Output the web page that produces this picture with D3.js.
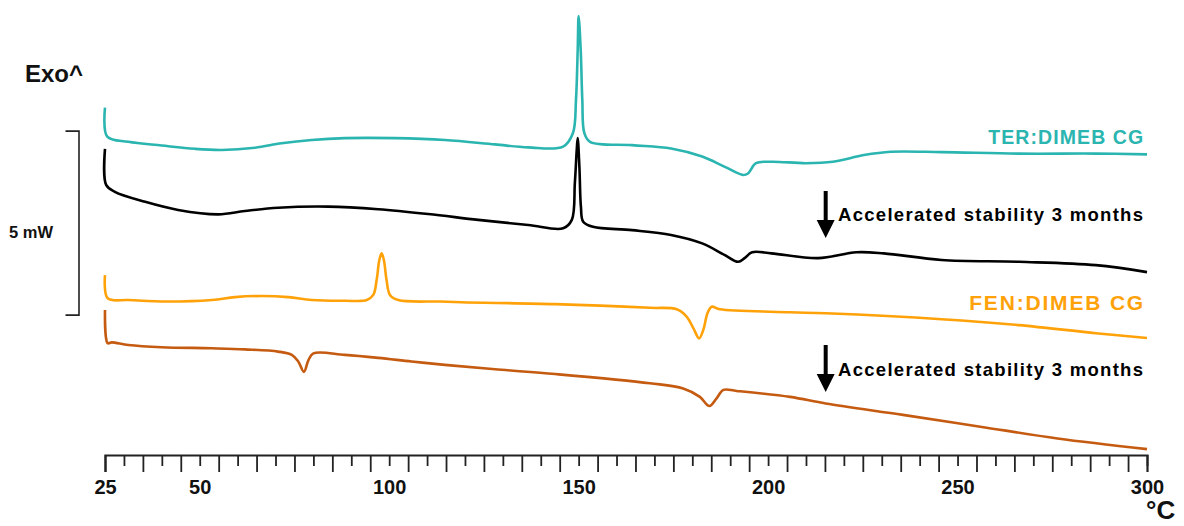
<!DOCTYPE html>
<html>
<head>
<meta charset="utf-8">
<script src="https://cdn.jsdelivr.net/npm/d3@7"></script>
<style>
  body { margin: 0; background: #fff; }
  text { font-family: "Liberation Sans", Arial, sans-serif; font-weight: bold; }
</style>
</head>
<body>
<svg id="chart" width="1184" height="526"></svg>
<script>
// DSC thermograms, [temperature °C, heat flow mW] (offset curves)
var terDimeb = [[25,9.44],[25.6,8.65],[31.15,8.51],[39.96,8.41],[48.75,8.32],[55.8,8.29],[64.6,8.35],[71.6,8.47],[79.55,8.56],[88.3,8.61],[101.5,8.61],[114.7,8.56],[127.9,8.44],[136.7,8.36],[145.9,8.38],[148.5,8.75],[149.3,9.65],[149.75,11.0],[150.0,11.93],[150.55,11.0],[150.97,9.65],[151.5,8.75],[153.0,8.51],[164.1,8.42],[174.4,8.33],[182.6,8.11],[188.6,7.83],[193.4,7.61],[194.7,7.65],[196.8,7.93],[200.9,7.97],[210.0,7.93],[217.1,7.97],[225.3,8.15],[232.4,8.24],[245.8,8.23],[266.2,8.19],[286.5,8.19],[300,8.17]];
var terAged = [[25,8.32],[25.3,7.34],[27.6,7.15],[35.6,6.88],[44.3,6.66],[54.9,6.54],[61.9,6.63],[70.7,6.72],[83.9,6.75],[97.1,6.68],[110.3,6.55],[123.5,6.39],[136.7,6.25],[145.9,6.16],[148.2,6.39],[149.0,7.39],[149.5,8.29],[149.75,8.61],[150.2,7.83],[150.6,6.75],[151.2,6.34],[153.8,6.20],[164.1,6.11],[174.4,5.98],[182.6,5.75],[188.6,5.43],[192.1,5.25],[193.8,5.35],[195.8,5.51],[200.9,5.48],[213.2,5.35],[223.3,5.51],[230.5,5.48],[245.8,5.30],[266.2,5.25],[286.5,5.16],[300,4.97]];
var fenDimeb = [[25,4.89],[25.7,4.26],[31.15,4.21],[39.96,4.17],[53.2,4.21],[59.3,4.29],[66.4,4.32],[73.4,4.29],[79.55,4.21],[88.3,4.19],[94.1,4.21],[95.8,4.35],[96.7,4.76],[97.4,5.30],[98.0,5.48],[98.6,5.30],[99.3,4.76],[100.2,4.35],[102.4,4.21],[113.4,4.17],[119.1,4.15],[143.8,4.10],[168.8,4.00],[175.9,3.96],[178.5,3.76],[180.3,3.44],[181.8,3.17],[182.9,3.40],[184.0,3.85],[185.1,4.03],[187.3,3.96],[205.8,3.88],[215.2,3.85],[245.8,3.69],[266.2,3.53],[286.5,3.31],[300,3.18]];
var fenAged = [[25,3.94],[25.7,3.04],[26.8,3.06],[31.15,2.99],[39.96,2.93],[53.2,2.90],[61.9,2.87],[70.7,2.81],[74.3,2.72],[76.0,2.54],[77.5,2.26],[78.7,2.58],[80.0,2.76],[88.3,2.72],[97.1,2.64],[105.9,2.54],[114.7,2.45],[127.9,2.33],[143.8,2.20],[168.8,1.95],[177.6,1.81],[182.0,1.58],[184.5,1.33],[186.4,1.54],[188.2,1.77],[191.7,1.74],[205.8,1.58],[215.2,1.40],[235.6,1.09],[256.0,0.77],[276.4,0.45],[300,0.16]];

var tickValues = d3.range(25, 301, 5);
var tickLabels = [25, 50, 100, 150, 200, 250, 300];
var scaleBar = [3.8, 8.8]; // 5 mW

var series = [
    {data: terDimeb, color: "#2bb5b0"},
    {data: terAged, color: "#000000"},
    {data: fenDimeb, color: "#ffa20a"},
    {data: fenAged, color: "#c55a11"}
];

var svg = d3.select("#chart");
var x = d3.scaleLinear().domain([25, 300]).range([105, 1147]);
var y = d3.scaleLinear().domain([0, 12]).range([455, 13.4]);

var line = d3.line()
    .x(function(d) { return x(d[0]); })
    .y(function(d) { return y(d[1]); })
    .curve(d3.curveCatmullRom.alpha(0.5));

series.forEach(function(s) {
    svg.append("path")
        .datum(s.data)
        .attr("fill", "none")
        .attr("stroke", s.color)
        .attr("stroke-width", 2.6)
        .attr("stroke-linejoin", "round")
        .attr("d", line);
});

// x axis, long tick every 10 from 25
var axis = svg.append("g")
    .attr("transform", "translate(0," + y(0) + ")")
    .call(d3.axisBottom(x)
        .tickValues(tickValues)
        .tickSizeOuter(0)
        .tickSize(17)
        .tickFormat(function(d) { return tickLabels.indexOf(d) >= 0 ? d : ""; }));
axis.select(".domain").attr("stroke", "#222").attr("stroke-width", 2.2);
axis.selectAll(".tick line")
    .attr("stroke", "#222")
    .attr("stroke-width", 1.8)
    .attr("y2", function(d) { return (d - 25) % 10 === 0 ? 17 : 11; });
axis.selectAll(".tick text")
    .attr("y", 25)
    .attr("fill", "#111")
    .style("font-size", "20px")
    .style("font-family", "'Liberation Sans', Arial, sans-serif")
    .style("font-weight", "bold");

svg.append("text").attr("x", 1146).attr("y", 519)
    .style("font-size", "26px").attr("fill", "#111").text("°C");

// Exo and scale bar
svg.append("text").attr("x", 25).attr("y", 82)
    .style("font-size", "24px").attr("fill", "#111").text("Exo^");

svg.append("path")
    .attr("fill", "none").attr("stroke", "#222").attr("stroke-width", 1.6)
    .attr("d", "M65.5," + y(scaleBar[1]) + "H79V" + y(scaleBar[0]) + "H65.5");
svg.append("text").attr("x", 9).attr("y", 238)
    .style("font-size", "16.5px").attr("fill", "#111").text("5 mW");

// curve labels
svg.append("text").attr("x", x(299)).attr("y", 143.5).attr("text-anchor", "end")
    .style("font-size", "19.5px").attr("fill", "#2bb5b0")
    .attr("textLength", 155).attr("lengthAdjust", "spacing").text("TER:DIMEB CG");
svg.append("text").attr("x", x(299)).attr("y", 310).attr("text-anchor", "end")
    .style("font-size", "21px").attr("fill", "#ffa20a")
    .attr("textLength", 174).attr("lengthAdjust", "spacing").text("FEN:DIMEB CG");

function arrowNote(top, textBase) {
    var ax = x(215.2);
    svg.append("line").attr("x1", ax).attr("x2", ax).attr("y1", top).attr("y2", top + 31)
        .attr("stroke", "#000").attr("stroke-width", 4);
    svg.append("path").attr("fill", "#000")
        .attr("d", "M" + (ax - 9) + "," + (top + 29) + "L" + (ax + 9) + "," + (top + 29) + "L" + ax + "," + (top + 47) + "Z");
    svg.append("text").attr("x", 838).attr("y", textBase)
        .style("font-size", "18.5px").attr("fill", "#000")
        .attr("textLength", 305).attr("lengthAdjust", "spacing")
        .text("Accelerated stability 3 months");
}
arrowNote(191, 220.5);
arrowNote(345, 376);
</script>
</body>
</html>
